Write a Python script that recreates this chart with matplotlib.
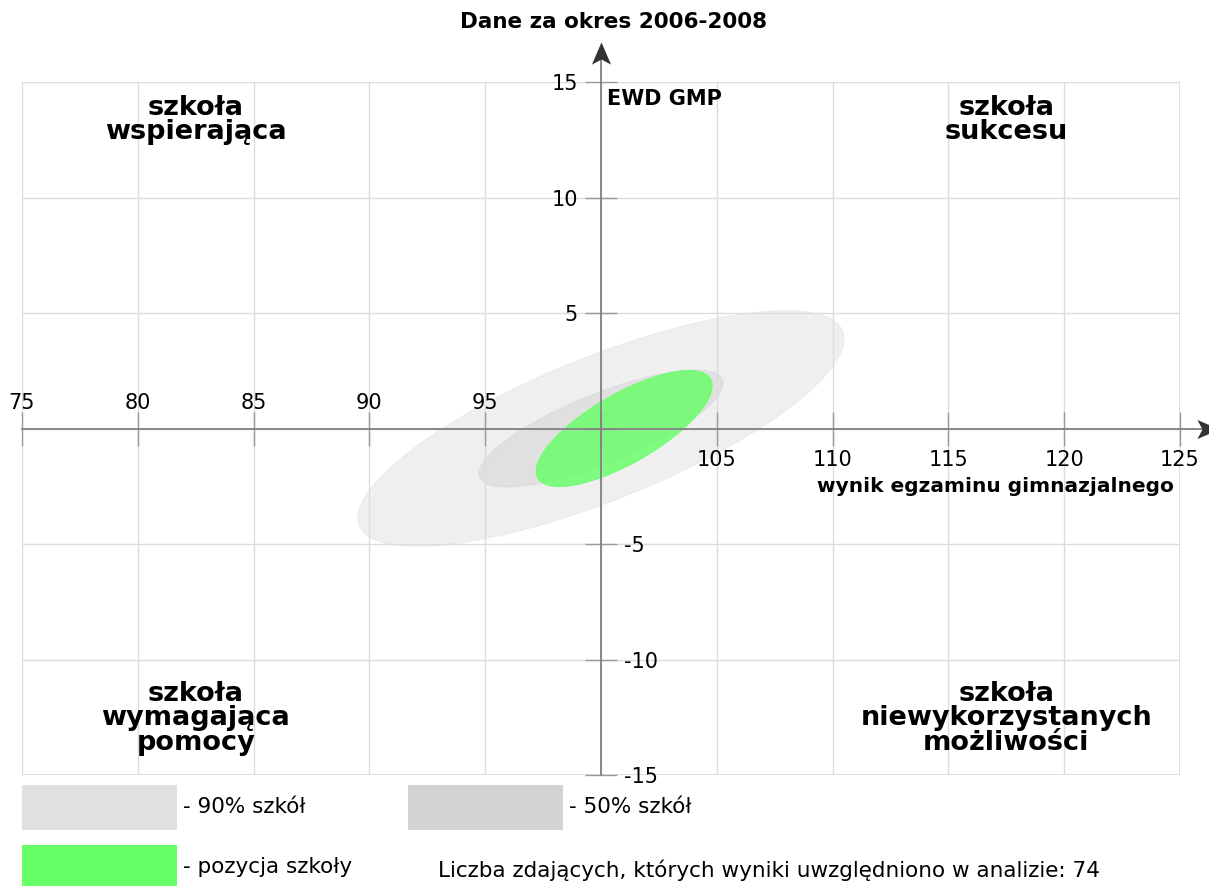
"""EWD chart: position of the school against 50% / 90% of schools -> out.png."""
import matplotlib
matplotlib.use('Agg')
import matplotlib.pyplot as plt
from matplotlib.patches import Ellipse, Rectangle
from matplotlib.path import Path
from matplotlib.transforms import ScaledTranslation

# axes
xticks = [75, 80, 85, 90, 95, 100, 105, 110, 115, 120, 125]
yticks = [-15, -10, -5, 0, 5, 10, 15]

# ellipses (centre, size in data units, rotation in degrees)
ell_labels = ['- 90% szkół', '- 50% szkół', '- pozycja szkoły']
ell_cx = [100.0, 100.0, 101.0]
ell_cy = [0.0, 0.0, 0.0]
ell_w = [22.5, 11.3, 8.6]
ell_h = [6.2, 3.0, 3.0]
ell_ang = [22.0, 22.0, 30.0]
ell_colors = ['#e0e0e0', '#d3d3d3', '#66ff66']
ell_alpha = [0.5, 0.5, 0.82]

quadrants = ['szkoła\nwspierająca', 'szkoła\nsukcesu',
             'szkoła\nwymagająca\npomocy', 'szkoła\nniewykorzystanych\nmożliwości']
quad_x = [82.5, 117.5, 82.5, 117.5]
quad_y = [13.35, 13.35, -12.55, -12.55]

n_students = 74

plt.rcParams['font.family'] = ['DejaVu Sans']
fig = plt.figure(figsize=(12.09, 8.86), dpi=100)
ax = fig.add_axes([22 / 1209, 1 - 775 / 886, (1180 - 22) / 1209, (775 - 82) / 886])
ax.set_xlim(75, 125)
ax.set_ylim(-15, 15)

grid_c = '#dcdcdc'
axis_c = '#808080'
tick_c = '#999999'
ax.set_axisbelow(True)
ax.grid(True, color=grid_c, lw=1)
ax.add_patch(Rectangle((0, 0), 1, 1, transform=ax.transAxes, fill=False, ec=grid_c, lw=1.2, zorder=0))

# ellipses sit under the grid and tick labels
for cx, cy, w, h, a, c, al in zip(ell_cx, ell_cy, ell_w, ell_h, ell_ang, ell_colors, ell_alpha):
    ax.add_patch(Ellipse((cx, cy), w, h, angle=a, fc=c, ec=c, lw=0.8, alpha=al, zorder=0.3))

# spines through the origin, ticks on both sides
ax.spines['bottom'].set_position(('data', 0))
ax.spines['top'].set_position(('data', 0))
ax.spines['left'].set_position(('data', 100))
ax.spines['right'].set_position(('data', 100))
for s in ax.spines.values():
    s.set_visible(False)

ax.set_xticks(xticks)
ax.set_yticks(yticks)
ax.set_xticklabels([str(v) for v in xticks])
ax.set_yticklabels([str(v) for v in yticks])
ax.tick_params(axis='x', direction='inout', length=24, width=1, color=tick_c, labelsize=15,
               top=False, labeltop=True, pad=3.5)
ax.tick_params(axis='y', direction='inout', length=23, width=1, color=tick_c, labelsize=15,
               right=False, labelright=True, pad=5)
down = ScaledTranslation(0, -6 / 100, fig.dpi_scale_trans)
for t, v in zip(ax.xaxis.get_major_ticks(), xticks):
    t.label1.set_visible(v > 100)
    t.label2.set_visible(v < 100)
    t.label2.set_transform(t.label2.get_transform() + down)
for t, v in zip(ax.yaxis.get_major_ticks(), yticks):
    t.label1.set_visible(v > 0)
    t.label2.set_visible(v < 0)

# axis lines with arrow heads
head_up = Path([(0, 1), (0.86, -1), (0, -0.54), (-0.86, -1), (0, 1)],
               [Path.MOVETO, Path.LINETO, Path.LINETO, Path.LINETO, Path.CLOSEPOLY])
head_right = Path([(1, 0), (-1, 0.86), (-0.54, 0), (-1, -0.86), (1, 0)],
                  [Path.MOVETO, Path.LINETO, Path.LINETO, Path.LINETO, Path.CLOSEPOLY])
ax.plot([75, 126.0], [0, 0], color=axis_c, lw=1.3, clip_on=False, zorder=3)
ax.plot([100, 100], [-15, 16.2], color=axis_c, lw=1.3, clip_on=False, zorder=3)
ax.plot([100], [16.24], marker=head_up, ms=16, color='#333333', mew=0, clip_on=False, zorder=4)
ax.plot([126.2], [0], marker=head_right, ms=16, color='#333333', mew=0, clip_on=False, zorder=4)

ax.text(100.25, 14.25, 'EWD GMP', ha='left', va='center', fontsize=15, weight='bold')
ax.text(124.75, -2.5, 'wynik egzaminu gimnazjalnego', ha='right', va='center',
        fontsize=14.5, weight='bold')
for qx, qy, q in zip(quad_x, quad_y, quadrants):
    ax.text(qx, qy, q, ha='center', va='center', multialignment='center',
            fontsize=19.5, weight='bold', linespacing=0.93)

fig.text(614 / 1209, 1 - 22 / 886, 'Dane za okres 2006-2008', ha='center', va='center',
         fontsize=15.5, weight='bold')

# legend area in pixel coordinates
lax = fig.add_axes([0, 0, 1, 1])
lax.set_xlim(0, 1209)
lax.set_ylim(886, 0)
lax.axis('off')
sw_x = [22, 408, 22]
sw_y = [785, 785, 845]
for x, y, c, lab in zip(sw_x, sw_y, ell_colors, ell_labels):
    lax.add_patch(Rectangle((x, y), 155, 45, fc=c, ec='none'))
    lax.text(x + 161, y + 22, lab, ha='left', va='center', fontsize=15.5)
lax.text(438, 870, f'Liczba zdających, których wyniki uwzględniono w analizie: {n_students}',
         ha='left', va='center', fontsize=15.5)

fig.savefig('out.png', dpi=100)
